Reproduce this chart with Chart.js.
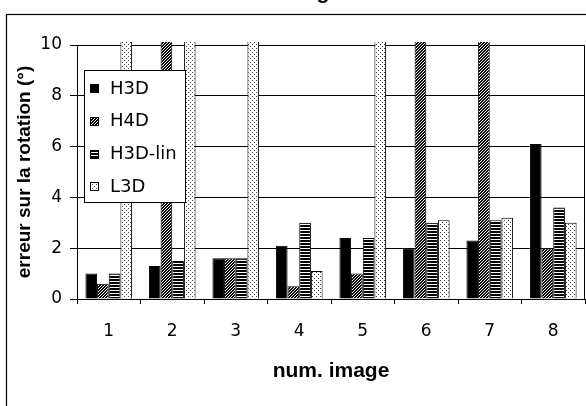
<!DOCTYPE html>
<html><head><meta charset="utf-8">
<script src="https://cdn.jsdelivr.net/npm/chart.js@4"></script>
<style>html,body{margin:0;padding:0;background:#fff}#wrap{width:586px;height:406px}</style>
</head><body><div id="wrap"><canvas id="c" width="586" height="406"></canvas></div>
<script>
// ---- data ----
const categories = ['1','2','3','4','5','6','7','8'];
const seriesNames = ['H3D','H4D','H3D-lin','L3D'];
const h3d    = [1.0, 1.3, 1.6, 2.1, 2.4, 2.0, 2.3, 6.1];
const h4d    = [0.6, 12,  1.6, 0.5, 1.0, 12,  12,  2.0];
const h3dLin = [1.0, 1.5, 1.6, 3.0, 2.4, 3.0, 3.1, 3.6];
const l3d    = [12,  12,  12,  1.1, 12,  3.1, 3.2, 3.0];
const yTicks = [0, 2, 4, 6, 8, 10];
const xTitle = 'num. image';
const yTitle = 'erreur sur la rotation (°)';

const FONT = '"Liberation Sans", Arial, Helvetica, sans-serif';
const WIDE = '"DejaVu Sans", Verdana, sans-serif';
Chart.defaults.font.family = FONT;
Chart.defaults.color = '#000';

const canvas = document.getElementById('c');
const mainCtx = canvas.getContext('2d');
function makePattern(w, h, draw) {
  const c = document.createElement('canvas'); c.width = w; c.height = h;
  const g = c.getContext('2d'); draw(g, w, h);
  return mainCtx.createPattern(c, 'repeat');
}
const solid = '#000';
const hatch = makePattern(3, 3, (g) => {
  g.fillStyle = '#000'; g.fillRect(0, 0, 3, 3);
  g.fillStyle = '#fff';
  for (let x = 0; x < 3; x++) { const y = (2 - x + 3) % 3; g.fillRect(x, y, 1, 1); }
});
const stripes = makePattern(1, 3, (g) => {
  g.fillStyle = '#fff'; g.fillRect(0, 0, 1, 3);
  g.fillStyle = '#000'; g.fillRect(0, 0, 1, 2);
});
const dots = makePattern(4, 4, (g) => {
  g.fillStyle = '#fff'; g.fillRect(0, 0, 4, 4);
  g.fillStyle = '#444'; g.fillRect(0, 0, 1, 1); g.fillRect(2, 2, 1, 1);
});
const fills = [solid, hatch, stripes, dots];
const seriesValues = [h3d, h4d, h3dLin, l3d];

const datasets = seriesNames.map((name, i) => ({
  label: name,
  data: seriesValues[i],
  backgroundColor: fills[i],
  borderColor: '#000',
  borderWidth: 1,
  borderSkipped: 'bottom',
  categoryPercentage: 0.735,
  barPercentage: 1.0,
  clip: {left: 0, top: 3, right: 0, bottom: 0}
}));

const framePlugin = {
  id: 'frame',
  beforeDraw(chart) {
    const ctx = chart.ctx; ctx.save();
    ctx.fillStyle = '#fff'; ctx.fillRect(0, 0, chart.width, chart.height);
    ctx.strokeStyle = '#000'; ctx.lineWidth = 1.2;
    ctx.strokeRect(6.5, 14.5, 800, 600);
    ctx.fillStyle = '#000';
    ctx.font = 'bold 21px ' + FONT;
    ctx.textAlign = 'center'; ctx.textBaseline = 'alphabetic';
    ctx.fillText('g', 323, -1.5);
    ctx.restore();
  }
};
const areaPlugin = {
  id: 'areaBorder',
  afterDatasetsDraw(chart) {
    const a = chart.chartArea, ctx = chart.ctx; ctx.save();
    ctx.strokeStyle = '#000'; ctx.lineWidth = 1;
    ctx.beginPath(); ctx.moveTo(a.right - 0.5, a.top); ctx.lineTo(a.right - 0.5, a.bottom); ctx.stroke();
    // legend box
    ctx.fillStyle = '#fff'; ctx.fillRect(84, 70, 102, 133);
    ctx.strokeRect(84.5, 70.5, 101, 132);
    ctx.font = '18px ' + WIDE; ctx.textBaseline = 'middle'; ctx.textAlign = 'left';
    chart.data.datasets.forEach((ds, i) => {
      const cy = 88.5 + i * 32.8;
      ctx.fillStyle = ds.backgroundColor;
      ctx.fillRect(90, Math.round(cy - 4.5), 9, 9);
      ctx.strokeRect(90.5, Math.round(cy - 4.5) + 0.5, 8, 8);
      ctx.fillStyle = '#000';
      ctx.fillText(ds.label, 110, cy + 0.5);
    });
    ctx.restore();
  }
};

new Chart(canvas, {
  type: 'bar',
  data: { labels: categories, datasets },
  options: {
    responsive: false,
    animation: false,
    devicePixelRatio: 1,
    layout: { padding: { left: 0, top: 45, right: 1, bottom: 0 } },
    plugins: { legend: { display: false }, tooltip: { enabled: false }, title: { display: false } },
    scales: {
      x: {
        grid: { offset: true, drawOnChartArea: false, drawTicks: true, tickLength: 5, color: '#000', lineWidth: 1 },
        border: { display: true, color: '#000', width: 1 },
        ticks: { font: { size: 17, family: WIDE }, padding: 17, color: '#000', maxRotation: 0 },
        title: { display: true, text: xTitle, font: { size: 21, weight: 'bold' }, color: '#000', padding: { top: 0, bottom: 22 } },
        afterFit: (s) => { s.height = 107; }
      },
      y: {
        min: 0, max: 10,
        afterBuildTicks: (s) => { s.ticks = yTicks.map(v => ({ value: v })); },
        grid: { color: '#000', lineWidth: 1, tickLength: 7, drawTicks: true },
        border: { display: true, color: '#000', width: 1 },
        ticks: { font: { size: 17, family: WIDE }, padding: 8, color: '#000' },
        title: { display: true, text: yTitle, font: { size: 19, weight: 'bold' }, color: '#000', padding: { top: 13, bottom: 0 } },
        afterFit: (s) => { s.width = 77; }
      }
    }
  },
  plugins: [framePlugin, areaPlugin]
});
</script>
</body></html>
